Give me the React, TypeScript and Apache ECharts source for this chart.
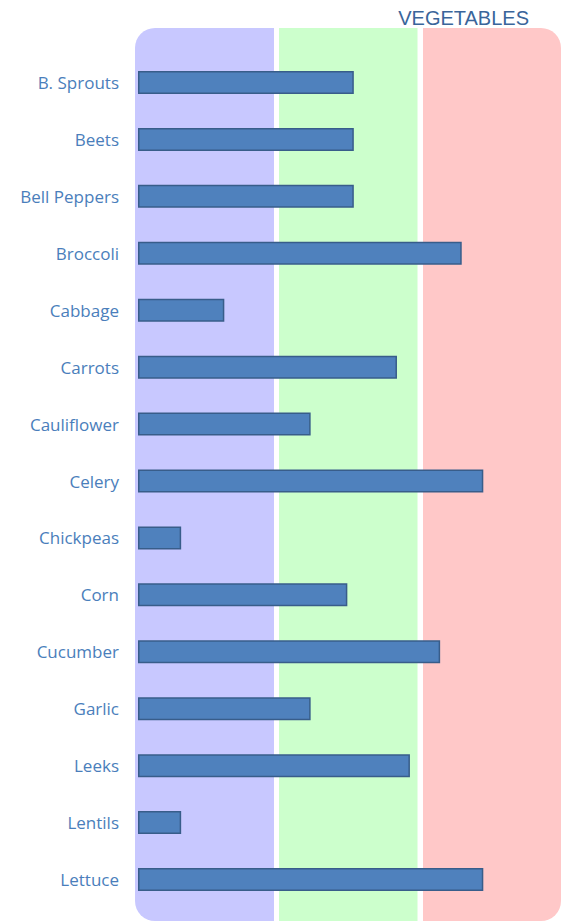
import React, { useEffect, useRef } from "react";
import * as echarts from "echarts";

const categories = [
  "B. Sprouts", "Beets", "Bell Peppers", "Broccoli", "Cabbage", "Carrots",
  "Cauliflower", "Celery", "Chickpeas", "Corn", "Cucumber", "Garlic",
  "Leeks", "Lentils", "Lettuce",
];
const values = [5, 5, 5, 7.5, 2, 6, 4, 8, 1, 4.85, 7, 4, 6.3, 1, 8];
const titleText = "VEGETABLES";

export default function App() {
  const ref = useRef<HTMLDivElement>(null);
  useEffect(() => {
    if (!ref.current) return;
    const chart = echarts.init(ref.current, null, { renderer: "svg" });
    chart.setOption({
      animation: false,
      title: {
        text: titleText,
        right: 27,
        top: 3,
        textStyle: {
          fontFamily: "Liberation Sans",
          fontSize: 20,
          fontWeight: "normal",
          color: "#3a659a",
        },
      },
      graphic: [
        { type: "rect", z: 0, shape: { x: 135, y: 28, width: 139, height: 893, r: [20, 0, 0, 20] }, style: { fill: "#c8c8ff" } },
        { type: "rect", z: 0, shape: { x: 279, y: 28, width: 138.5, height: 893, r: 0 }, style: { fill: "#ccffcc" } },
        { type: "rect", z: 0, shape: { x: 423, y: 28, width: 138, height: 893, r: [0, 20, 20, 0] }, style: { fill: "#ffc8c8" } },
      ],
      grid: { left: 138, right: 0, top: 54, bottom: 14 },
      xAxis: {
        type: "value",
        min: 0,
        max: 9.8,
        show: false,
      },
      yAxis: {
        type: "category",
        data: categories,
        inverse: true,
        axisLine: { show: false },
        axisTick: { show: false },
        axisLabel: {
          margin: 19,
          fontFamily: "Open Sans",
          fontSize: 17,
          color: "#4a7ebb",
        },
      },
      series: [
        {
          type: "bar",
          data: values,
          barWidth: 23,
          z: 2,
          itemStyle: {
            color: "#4f81bd",
            borderColor: "#385d8a",
            borderWidth: 1.5,
          },
        },
      ],
    });
    return () => chart.dispose();
  }, []);
  return (
    <div
      ref={ref}
      style={{ position: "absolute", left: 0, top: 0, width: 561, height: 922 }}
    />
  );
}
